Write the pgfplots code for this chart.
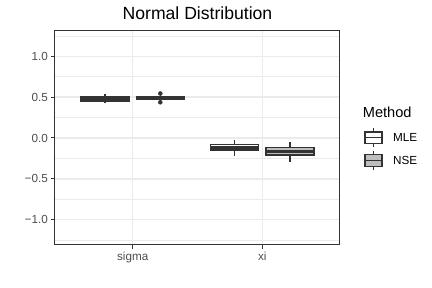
\documentclass[border=0pt]{standalone}
\usepackage{fontspec}
\setmainfont{Liberation Sans}
\usepackage{pgfplots}
\pgfplotsset{compat=1.18}
\usepgfplotslibrary{statistics}
\definecolor{gridc}{HTML}{EBEBEB}
\definecolor{g20}{HTML}{333333}
\definecolor{g30}{HTML}{4D4D4D}
\definecolor{nsefill}{HTML}{BEBEBE}
\begin{document}
\begin{tikzpicture}
\useasboundingbox (0pt,0pt) rectangle (432pt,288pt);
\begin{axis}[
  at={(55pt,43pt)}, anchor=south west, scale only axis,
  width=285pt, height=214pt,
  xmin=0.4, xmax=2.6, ymin=-1.31, ymax=1.31,
  xtick={1,2}, xticklabels={sigma,xi},
  ytick={-1,-0.5,0,0.5,1}, yticklabels={−1.0,−0.5,0.0,0.5,1.0},
  minor ytick={-1.25,-0.75,-0.25,0.25,0.75,1.25},
  grid=both,
  major grid style={color=gridc, line width=1.42pt},
  minor grid style={color=gridc, line width=0.71pt},
  axis line style={g20, line width=1.0pt},
  tick style={g20, line width=1.0pt},
  major tick length=3.67pt, minor tick length=0pt,
  tick align=outside,
  xtick pos=lower, ytick pos=left,
  tick label style={font=\fontsize{11.7}{13}\selectfont, text=g30},
  boxplot/draw direction=y,
  boxplot/whisker extend=0,
  boxplot/every median/.style={line width=2.85pt},
]
% sigma
\addplot[draw=g20, fill=white, line width=1.42pt,
  boxplot prepared={lower whisker=0.425, lower quartile=0.455, median=0.478,
    upper quartile=0.500, upper whisker=0.535, draw position=0.787, box extend=0.37}]
  coordinates {};
\addplot[draw=g20, fill=nsefill, line width=1.42pt,
  mark=*, mark size=2pt, mark options={fill=g20, draw=g20, line width=0.4pt},
  boxplot prepared={lower whisker=0.448, lower quartile=0.473, median=0.488,
    upper quartile=0.502, upper whisker=0.530, draw position=1.213, box extend=0.37}]
  table[row sep=\\, y index=0] {0.545\\ 0.437\\};
% xi
\addplot[draw=g20, fill=white, line width=1.42pt,
  boxplot prepared={lower whisker=-0.217, lower quartile=-0.146, median=-0.113,
    upper quartile=-0.080, upper whisker=-0.021, draw position=1.787, box extend=0.37}]
  coordinates {};
\addplot[draw=g20, fill=nsefill, line width=1.42pt,
  boxplot prepared={lower whisker=-0.300, lower quartile=-0.208, median=-0.162,
    upper quartile=-0.117, upper whisker=-0.049, draw position=2.213, box extend=0.37}]
  coordinates {};
\end{axis}
% title
\node[anchor=base, font=\fontsize{17.6}{20}\selectfont] at (197.5pt,268pt) {Normal Distribution};
% legend
\node[anchor=base west, font=\fontsize{14.6}{16}\selectfont, inner sep=0pt] at (362.7pt,170.7pt) {Method};
\begin{scope}[g20, line width=1.42pt, x=1pt, y=1pt]
  \draw (373.5,141.1) -- (373.5,144.55);
  \draw (373.5,156.05) -- (373.5,159.5);
  \draw[fill=white] (364.9,144.55) rectangle (382.1,156.05);
  \draw (364.9,150.3) -- (382.1,150.3);
  \draw (373.5,118.3) -- (373.5,121.75);
  \draw (373.5,133.25) -- (373.5,136.7);
  \draw[fill=nsefill] (364.9,121.75) rectangle (382.1,133.25);
  \draw (364.9,127.5) -- (382.1,127.5);
\end{scope}
\node[anchor=west, font=\fontsize{11.7}{13}\selectfont, inner sep=0pt] at (393pt,150.3pt) {MLE};
\node[anchor=west, font=\fontsize{11.7}{13}\selectfont, inner sep=0pt] at (393pt,127.5pt) {NSE};
\end{tikzpicture}
\end{document}
